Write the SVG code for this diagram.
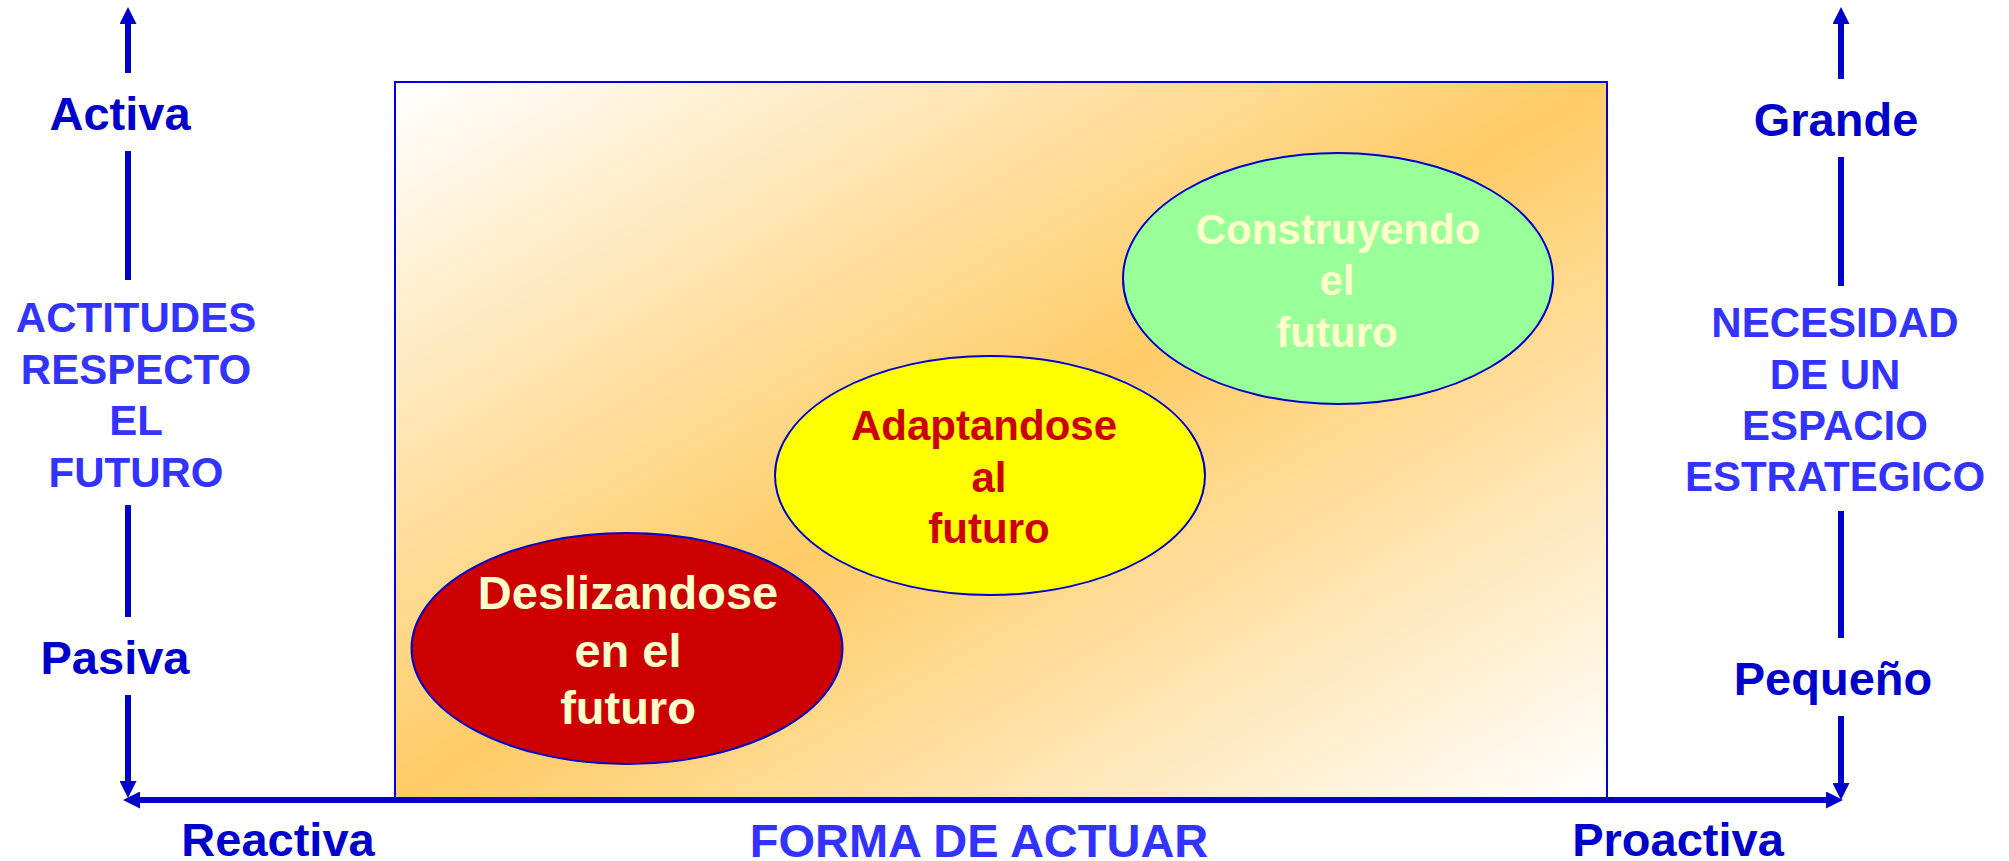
<svg xmlns="http://www.w3.org/2000/svg" width="2009" height="861" viewBox="0 0 2009 861">
<defs>
<linearGradient id="bg" x1="0" y1="0" x2="1" y2="1">
<stop offset="0" stop-color="#ffffff"/>
<stop offset="0.5" stop-color="#ffcc66"/>
<stop offset="1" stop-color="#ffffff"/>
</linearGradient>
<marker id="ah" viewBox="0 0 17 17" refX="2" refY="8.5" markerWidth="17" markerHeight="17" markerUnits="userSpaceOnUse" orient="auto-start-reverse">
<path d="M0,0 L17,8.5 L0,17 z" fill="#0000cc"/>
</marker>
</defs>
<style>
text{font-family:"Liberation Sans",Arial,sans-serif;font-weight:bold;text-anchor:middle}
.ax{fill:#0000cc;font-size:47px}
.tt{fill:#3333ff;font-size:42px}
.ln{stroke:#0000cc;stroke-width:6;fill:none}
.el{stroke:#0000cc;stroke-width:2}
</style>
<rect id="panel" x="395" y="82" width="1212" height="718" fill="url(#bg)" stroke="#0000dd" stroke-width="2"/>
<g id="connectors">
<line class="ln" x1="128" y1="73" x2="128" y2="22" marker-end="url(#ah)"/>
<line class="ln" x1="128" y1="151" x2="128" y2="280"/>
<line class="ln" x1="128" y1="505" x2="128" y2="617"/>
<line class="ln" x1="128" y1="695" x2="128" y2="783" marker-end="url(#ah)"/>
<line class="ln" x1="1841" y1="79" x2="1841" y2="22" marker-end="url(#ah)"/>
<line class="ln" x1="1841" y1="157" x2="1841" y2="286"/>
<line class="ln" x1="1841" y1="511" x2="1841" y2="638"/>
<line class="ln" x1="1841" y1="716" x2="1841" y2="785" marker-end="url(#ah)"/>
<line class="ln" x1="138" y1="800" x2="1828" y2="800" marker-start="url(#ah)" marker-end="url(#ah)"/>
</g>
<g id="labels-left">
<text class="ax" x="120" y="130">Activa</text>
<text class="tt" x="136" y="332">ACTITUDES</text>
<text class="tt" x="136" y="384">RESPECTO</text>
<text class="tt" x="136" y="435">EL</text>
<text class="tt" x="136" y="487">FUTURO</text>
<text class="ax" x="115" y="674">Pasiva</text>
</g>
<g id="labels-right">
<text class="ax" x="1836" y="136">Grande</text>
<text class="tt" x="1835" y="337">NECESIDAD</text>
<text class="tt" x="1835" y="389">DE UN</text>
<text class="tt" x="1835" y="440">ESPACIO</text>
<text class="tt" x="1835" y="491">ESTRATEGICO</text>
<text class="ax" x="1833" y="695">Pequeño</text>
</g>
<g id="labels-bottom">
<text class="ax" x="278" y="856">Reactiva</text>
<text class="tt" x="979" y="857" style="font-size:47px">FORMA DE ACTUAR</text>
<text class="ax" x="1678" y="856">Proactiva</text>
</g>
<g id="node-deslizandose">
<ellipse class="el" cx="627" cy="648.5" rx="215.5" ry="115.5" fill="#cc0000"/>
<text x="628" y="609" style="font-size:47px;fill:#ffffcc">Deslizandose</text>
<text x="628" y="667" style="font-size:47px;fill:#ffffcc">en el</text>
<text x="628" y="724" style="font-size:47px;fill:#ffffcc">futuro</text>
</g>
<g id="node-adaptandose">
<ellipse class="el" cx="990" cy="475.5" rx="215" ry="119.5" fill="#ffff00"/>
<text x="984" y="440" style="font-size:42px;fill:#cc0000">Adaptandose</text>
<text x="989" y="492" style="font-size:42px;fill:#cc0000">al</text>
<text x="989" y="543" style="font-size:42px;fill:#cc0000">futuro</text>
</g>
<g id="node-construyendo">
<ellipse class="el" cx="1338" cy="278.5" rx="215" ry="125.5" fill="#99ff99"/>
<text x="1338" y="244" style="font-size:42px;fill:#ffffcc">Construyendo</text>
<text x="1337" y="295" style="font-size:42px;fill:#ffffcc">el</text>
<text x="1337" y="347" style="font-size:42px;fill:#ffffcc">futuro</text>
</g>
</svg>
